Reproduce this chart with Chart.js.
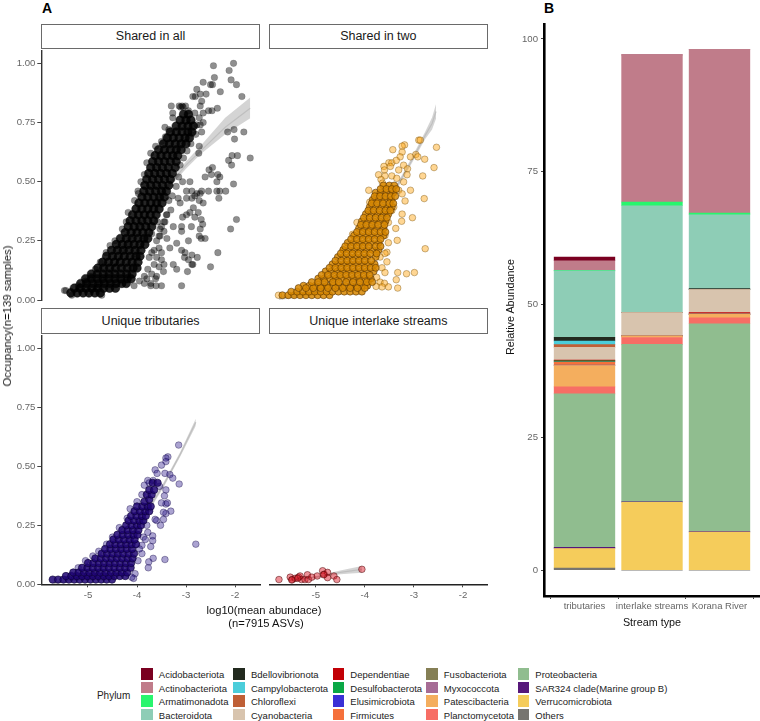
<!DOCTYPE html>
<html><head><meta charset="utf-8">
<style>
html,body{margin:0;padding:0;background:#fff;width:760px;height:721px;overflow:hidden;font-family:"Liberation Sans",Arial,sans-serif}
canvas{position:absolute}
.t{position:absolute;white-space:nowrap;transform:translate(-50%,-50%)}
.strip{position:absolute;box-sizing:border-box;border:1.2px solid #6a6a6a;background:#fff;color:#1a1a1a;font-size:12.5px;display:flex;align-items:center;justify-content:center}
.sw{position:absolute;width:11.6px;height:11.6px}
.lg{position:absolute;font-size:9.5px;color:#222;white-space:nowrap;transform:translateY(-50%)}
</style>
<script src="https://cdn.jsdelivr.net/npm/chart.js@4/dist/chart.umd.js"></script>
</head><body>
<script>
// ---------- Panel A: [log10 abundance, occupancy], flat pairs ----------
const allCore=[-5.35,.03,-5.22,.03,-5.1,.03,-4.98,.03,-4.86,.03,-4.75,.03,
-5.28,.05,-5.16,.05,-5.04,.05,-4.92,.05,-4.8,.05,-4.68,.05,-4.56,.05,-4.44,.05,
-5.15,.07,-5.03,.07,-4.91,.07,-4.79,.07,-4.67,.07,-4.55,.07,-4.43,.07,-4.31,.07,-4.22,.07,
-5.05,.09,-4.93,.09,-4.81,.09,-4.69,.09,-4.57,.09,-4.45,.09,-4.33,.09,-4.2,.09,-4.12,.09,
-4.93,.11,-4.81,.11,-4.69,.11,-4.57,.11,-4.45,.11,-4.33,.11,-4.21,.11,-4.1,.11,
-4.8,.135,-4.68,.135,-4.56,.135,-4.44,.135,-4.32,.135,-4.2,.135,-4.08,.135,-4,.135,
-4.7,.16,-4.58,.16,-4.46,.16,-4.34,.16,-4.22,.16,-4.1,.16,-3.98,.16,
-4.62,.185,-4.5,.185,-4.38,.185,-4.26,.185,-4.14,.185,-4.02,.185,-3.94,.185,
-4.52,.21,-4.4,.21,-4.28,.21,-4.16,.21,-4.04,.21,-3.92,.21,
-4.42,.235,-4.3,.235,-4.18,.235,-4.06,.235,-3.94,.235,-3.84,.235,
-4.34,.26,-4.22,.26,-4.1,.26,-3.98,.26,-3.86,.26,-3.78,.26,
-4.24,.285,-4.12,.285,-4,.285,-3.88,.285,-3.76,.285,
-4.18,.31,-4.06,.31,-3.94,.31,-3.82,.31,-3.7,.31,
-4.14,.335,-4.02,.335,-3.9,.335,-3.78,.335,-3.66,.335,
-4.09,.36,-3.97,.36,-3.85,.36,-3.73,.36,-3.61,.36,
-4.02,.385,-3.9,.385,-3.78,.385,-3.66,.385,-3.55,.385,
-3.96,.41,-3.84,.41,-3.72,.41,-3.6,.41,-3.49,.41,
-3.9,.435,-3.78,.435,-3.66,.435,-3.54,.435,-3.44,.435,
-3.86,.46,-3.74,.46,-3.62,.46,-3.5,.46,-3.4,.46,
-3.84,.485,-3.72,.485,-3.6,.485,-3.48,.485,-3.35,.485,
-3.8,.51,-3.68,.51,-3.56,.51,-3.44,.51,-3.32,.51,
-3.76,.535,-3.64,.535,-3.52,.535,-3.4,.535,-3.28,.535,
-3.72,.56,-3.6,.56,-3.48,.56,-3.36,.56,-3.22,.56,
-3.68,.585,-3.56,.585,-3.44,.585,-3.32,.585,-3.2,.585,
-3.63,.61,-3.51,.61,-3.39,.61,-3.27,.61,-3.17,.61,
-3.56,.635,-3.44,.635,-3.32,.635,-3.2,.635,-3.1,.635,
-3.46,.66,-3.34,.66,-3.22,.66,-3.1,.66,-3,.66,
-3.38,.685,-3.26,.685,-3.14,.685,-3.02,.685,-2.93,.685,
-3.32,.71,-3.2,.71,-3.08,.71,-2.96,.71,-2.88,.71,
-3.2,.735,-3.08,.735,-2.96,.735,-2.85,.735,
-3.12,.76,-3,.76,-2.9,.76,-3.05,.785,-2.95,.785];
const allSparse=[-2.44,.99,-2.03,1,-2.12,.97,-2.08,.93,-1.97,.91,-1.86,.86,-2.65,.92,-2.42,.94,-2.5,.91,-2.46,.91,-2.3,.88,-2.78,.89,-2.86,.86,-2.81,.86,-2.71,.87,-2.59,.87,-2.68,.84,-2.71,.82,-2.65,.79,-2.54,.8,-2.47,.8,-2.36,.81,-3.3,.82,-3.14,.82,-3.08,.82,-3.01,.82,-3.11,.815,-3.06,.815,-2.95,.8,-3.27,.79,-2.82,.79,-2.73,.77,-3.27,.77,-2.65,.75,-2.71,.74,-2.68,.71,-3.43,.73,-2.15,.71,-2.02,.72,-1.82,.71,-2.01,.68,-2.73,.65,-2.74,.62,-1.69,.6,-1.95,.61,-2.06,.61,-2.13,.59,-2.07,.57,-2.46,.56,-2.53,.55,-2.35,.53,-2.31,.52,-2.37,.5,-2.61,.52,-2.48,.53,-2.03,.49,-2.19,.46,-2.31,.46,-2.37,.46,-2.33,.43,-2.54,.46,-2.68,.46,-2.71,.45,-2.92,.5,-3.07,.5,-2.99,.46,-2.88,.46,-2.78,.45,-3.16,.43,-2.99,.43,-2.88,.43,-2.82,.44,-2.73,.42,-2.65,.41,-3.12,.41,-3.97,.45,-3.31,.38,-2.75,.37,-2.85,.39,-2.92,.37,-2.99,.36,-3.07,.35,-3.39,.36,-2.69,.34,-2.82,.35,-1.97,.34,-2.09,.3,-2.71,.3,-2.66,.32,-2.89,.31,-3.09,.31,-3.09,.29,-3.26,.31,-3.43,.33,-3.53,.3,-2.73,.27,-2.69,.26,-2.61,.26,-2.95,.25,-3.19,.24,-3.53,.27,-3.39,.26,-3.33,.22,-3.09,.21,-3.02,.2,-2.88,.19,-2.77,.18,-2.35,.2,-3.03,.18,-2.95,.17,-2.86,.15,-2.5,.14,-3.26,.15,-3.19,.13,-2.88,.15,-2.97,.12,-3.46,.12,-3.6,.1,-3.09,.06,-3.5,.06,-3.61,.06,-3.72,.06,-4.06,.06,-4.72,.02,-5.48,.04,-5.33,.02,
-3.7,.28,-3.6,.25,-3.55,.22,-3.5,.2,-3.6,.18,-3.65,.15,-3.55,.14,-3.7,.11,-3.8,.09,-3.5,.17,-3.45,.15,-3.65,.21,-3.7,.2,-3.75,.18,-3.78,.13,-3.85,.1,-3.95,.08,-3.62,.09,-3.72,.07,-3.85,.07,-3.5,.31,-3.58,.33,-3.45,.29,
-5.45,.04,-5.2,.06,-5.05,.08,-4.95,.1,-4.85,.13,-4.75,.16,-4.63,.2,-4.55,.23,-4.45,.25,-4.3,.3,-4.22,.33,-4.18,.37,-4.05,.42,-3.98,.46,-3.92,.5,-3.85,.53,-3.8,.58,-3.72,.62,-3.62,.65,-3.5,.67,-3.42,.69,-3.35,.72,-3.28,.44,-3.2,.48,-3.15,.52,-3.12,.57,-3.05,.6,-2.98,.63,-2.9,.66,-2.8,.7,-2.78,.74,-3.4,.36,-3.35,.42,-3.45,.33,-3.55,.27];
const twoCore=[-5.68,.02,-5.56,.02,-5.44,.02,-5.32,.02,-5.2,.02,-5.08,.02,-4.96,.02,-4.84,.02,-4.72,.02,
-5.5,.035,-5.38,.035,-5.26,.035,-5.14,.035,-5.02,.035,-4.9,.035,-4.78,.035,-4.66,.035,-4.54,.035,-4.42,.035,-4.3,.035,-4.18,.035,-4.06,.035,
-5.25,.06,-5.13,.06,-5.01,.06,-4.89,.06,-4.77,.06,-4.65,.06,-4.53,.06,-4.41,.06,-4.29,.06,-4.17,.06,-4.05,.06,-3.95,.06,
-4.95,.09,-4.83,.09,-4.71,.09,-4.59,.09,-4.47,.09,-4.35,.09,-4.23,.09,-4.11,.09,-3.99,.09,-3.88,.09,
-4.8,.12,-4.68,.12,-4.56,.12,-4.44,.12,-4.32,.12,-4.2,.12,-4.08,.12,-3.96,.12,-3.82,.12,
-4.66,.15,-4.54,.15,-4.42,.15,-4.3,.15,-4.18,.15,-4.06,.15,-3.94,.15,-3.8,.15,
-4.55,.18,-4.43,.18,-4.31,.18,-4.19,.18,-4.07,.18,-3.95,.18,-3.78,.18,
-4.44,.21,-4.32,.21,-4.2,.21,-4.08,.21,-3.96,.21,-3.84,.21,-3.72,.21,
-4.35,.24,-4.23,.24,-4.11,.24,-3.99,.24,-3.87,.24,-3.72,.24,
-4.22,.27,-4.1,.27,-3.98,.27,-3.86,.27,-3.74,.27,-3.62,.27,
-4.12,.3,-4,.3,-3.88,.3,-3.76,.3,-3.62,.3,
-4.06,.33,-3.94,.33,-3.82,.33,-3.7,.33,-3.58,.33,
-3.98,.36,-3.86,.36,-3.74,.36,-3.62,.36,-3.52,.36,
-3.9,.39,-3.78,.39,-3.66,.39,-3.54,.39,-3.45,.39,
-3.84,.42,-3.72,.42,-3.6,.42,-3.46,.42,
-3.78,.45,-3.68,.45,-3.56,.45,-3.42,.45,-3.62,.48,-3.5,.48,-3.4,.48,
-5.35,.05,-5.2,.05,-5.05,.05,-4.9,.05,-4.75,.05,-4.6,.05,-4.45,.05,-4.3,.05,-4.15,.05,-4,.05,
-5.08,.075,-4.95,.075,-4.82,.075,-4.65,.075,-4.53,.075,-4.38,.075,-4.24,.075,-4.1,.075,-3.96,.075,-3.85,.075,
-4.88,.105,-4.75,.105,-4.62,.105,-4.5,.105,-4.38,.105,-4.26,.105,-4.14,.105,-4.02,.105,-3.9,.105,
-4.72,.135,-4.6,.135,-4.48,.135,-4.36,.135,-4.24,.135,-4.12,.135,-4,.135,-3.88,.135,-3.78,.135,
-4.6,.165,-4.48,.165,-4.36,.165,-4.24,.165,-4.12,.165,-4,.165,-3.87,.165,
-4.49,.195,-4.37,.195,-4.25,.195,-4.13,.195,-4.01,.195,-3.89,.195,-3.76,.195,
-4.4,.225,-4.28,.225,-4.16,.225,-4.04,.225,-3.92,.225,-3.78,.225,-3.68,.225,
-4.28,.255,-4.16,.255,-4.04,.255,-3.92,.255,-3.8,.255,-3.68,.255,
-4.16,.285,-4.04,.285,-3.92,.285,-3.8,.285,-3.68,.285,-3.58,.285,
-4.08,.315,-3.97,.315,-3.85,.315,-3.73,.315,-3.6,.315,
-4.02,.345,-3.9,.345,-3.78,.345,-3.66,.345,-3.55,.345,
-3.93,.375,-3.82,.375,-3.7,.375,-3.58,.375,-3.48,.375,
-3.86,.405,-3.75,.405,-3.63,.405,-3.5,.405,-3.42,.405,
-3.8,.435,-3.69,.435,-3.58,.435,-3.47,.435,-3.38,.435,
-3.68,.465,-3.56,.465,-3.45,.465,-3.36,.465];
const twoSparse=[-2.9,.67,-2.87,.67,-2.54,.64,-3.19,.65,-3.24,.645,-3.43,.63,-3.24,.62,-3.28,.6,-3.07,.6,-2.96,.61,-2.92,.6,-2.78,.59,-3.51,.575,-3.45,.575,-3.36,.585,-3.21,.565,-3.61,.56,-3.6,.545,-3.48,.56,-3.31,.545,-3.13,.55,-2.59,.555,-3.72,.525,-3.14,.525,-2.82,.52,-3.59,.52,-3.45,.52,-3.35,.51,-3.21,.495,-3.67,.505,-3.64,.49,-3.07,.46,-3.92,.46,-3.31,.46,-3.24,.445,-3.18,.415,-2.79,.425,-3.9,.41,-3.41,.39,-3.45,.375,-3.24,.36,-3.25,.33,-3.03,.345,-3.52,.325,-4.16,.325,-3.37,.3,-4.25,.275,-3.34,.25,-3.52,.24,-3.59,.27,-2.77,.215,-4.44,.21,-3.55,.2,-3.69,.18,-3.59,.195,-3.55,.16,-3.65,.135,-3.59,.115,-3.33,.115,-3.15,.11,-2.99,.115,-3.36,.085,-3.76,.095,-3.69,.075,-3.6,.07,-3.52,.055,-3.33,.05,-3.77,.057,-3.65,.055,-3.93,.075,-5.76,.02];
const tribCore=[-5.72,.02,-5.61,.02,-5.5,.02,-5.39,.02,-5.28,.02,-5.17,.02,-5.06,.02,-4.95,.02,-4.84,.02,-4.73,.02,-4.62,.02,-4.51,.02,
-5.45,.035,-5.34,.035,-5.23,.035,-5.12,.035,-5.01,.035,-4.9,.035,-4.79,.035,-4.68,.035,-4.57,.035,-4.46,.035,-4.35,.035,-4.24,.035,
-5.3,.05,-5.19,.05,-5.08,.05,-4.97,.05,-4.86,.05,-4.75,.05,-4.64,.05,-4.53,.05,-4.42,.05,-4.31,.05,-4.2,.05,
-5.12,.07,-5.01,.07,-4.9,.07,-4.79,.07,-4.68,.07,-4.57,.07,-4.46,.07,-4.35,.07,-4.24,.07,-4.13,.07,
-5,.09,-4.89,.09,-4.78,.09,-4.67,.09,-4.56,.09,-4.45,.09,-4.34,.09,-4.23,.09,-4.12,.09,
-4.85,.11,-4.74,.11,-4.63,.11,-4.52,.11,-4.41,.11,-4.3,.11,-4.19,.11,-4.09,.11,
-4.72,.13,-4.61,.13,-4.5,.13,-4.39,.13,-4.28,.13,-4.17,.13,-4.06,.13,
-4.65,.15,-4.54,.15,-4.43,.15,-4.32,.15,-4.21,.15,-4.1,.15,
-4.55,.17,-4.44,.17,-4.33,.17,-4.22,.17,-4.11,.17,-4.02,.17,
-4.48,.19,-4.37,.19,-4.26,.19,-4.15,.19,-4.05,.19,
-4.4,.21,-4.29,.21,-4.18,.21,-4.07,.21,-3.99,.21,
-4.3,.23,-4.19,.23,-4.08,.23,-3.97,.23,
-4.22,.25,-4.11,.25,-4,.25,-3.92,.25,
-4.17,.27,-4.06,.27,-3.95,.27,-3.87,.27,
-4.12,.29,-4.01,.29,-3.9,.29,-3.82,.29,
-4.05,.31,-3.94,.31,-3.83,.31,-3.75,.31,
-4,.33,-3.89,.33,-3.78,.33,-3.72,.33,-3.85,.35,-3.75,.36,-3.8,.38,-3.7,.38,-3.75,.4,-3.65,.4,-3.68,.43,-3.58,.43];
const tribSparse=[-3.15,.59,-3.37,.54,-3.41,.535,-3.41,.52,-3.5,.505,-3.63,.485,-3.59,.47,-3.43,.47,-3.33,.465,-3.27,.45,-3.14,.425,-3.78,.44,-3.54,.415,-3.41,.4,-3.44,.375,-3.41,.34,-3.38,.345,-3.5,.345,-3.31,.31,-3.41,.3,-3.46,.305,-3.46,.275,-3.52,.25,-3.6,.27,-3.63,.275,-3.68,.205,-3.68,.185,-3.72,.16,-2.8,.17,-3.43,.105,-3.67,.11,-3.76,.095,-3.77,.07,-4.04,.045,-4.07,.025,-3.9,.165,-3.87,.2,-4.11,.03,
-5.2,.07,-5.05,.1,-4.9,.12,-4.78,.14,-4.62,.17,-4.5,.2,-4.36,.24,-4.2,.28,-4.14,.32,-4,.35,-3.9,.38,-3.85,.42,-3.75,.43,-3.67,.44,-3.9,.27,-3.8,.25,-3.78,.22,-3.83,.19,-3.9,.13,-3.98,.1,-3.95,.15];
const lakeSparse=[-5.75,.02,-5.52,.03,-5.48,.02,-5.42,.025,-5.35,.03,-5.32,.035,-5.29,.02,-5.22,.02,-5.17,.04,-5.15,.02,-5.08,.03,-4.97,.035,-4.86,.057,-4.83,.042,-4.76,.05,-4.76,.028,-4.63,.035,-4.57,.02,-4.06,.063,-5.37,.025,-5.49,.018,-4.84,.04];
// fit ribbons: abundance, centre, upper, lower
const allFitX=[-5,-4.5,-4,-3.5,-3,-2.71,-2.2,-1.69], allFit=[.02,.13,.3,.45,.57,.628,.73,.81], allHi=[.03,.14,.31,.46,.585,.65,.77,.856], allLo=[.01,.12,.29,.44,.555,.615,.7,.768];
const twoFitX=[-5.75,-5,-4.5,-4,-3.5,-3.04,-2.77,-2.63,-2.55], twoFit=[.006,.03,.11,.25,.42,.586,.69,.74,.79], twoHi=[.014,.04,.12,.26,.43,.598,.705,.765,.82], twoLo=[0,.02,.1,.24,.41,.574,.675,.715,.76];
const tribFitX=[-5.7,-5,-4.5,-4,-3.46,-3.12,-2.8], tribFit=[.005,.03,.1,.24,.42,.55,.687], tribHi=[.01,.04,.11,.25,.43,.56,.702], tribLo=[0,.02,.09,.23,.41,.54,.672];
const lakeFitX=[-5.5,-5,-4.5,-4.06], lakeFit=[.018,.03,.05,.063], lakeHi=[.024,.034,.058,.077], lakeLo=[.012,.026,.042,.049];
const xTicks=[-5,-4,-3,-2], yTicks=[0,.25,.5,.75,1];
// ---------- Panel B ----------
const streams=['tributaries','interlake streams','Korana River'];
const streamPos=[0,1,2];
const barTicks=[0,25,50,75,100];
const phyla=['Acidobacteriota','Actinobacteriota','Armatimonadota','Bacteroidota','Bdellovibrionota','Campylobacterota','Chloroflexi','Cyanobacteria','Dependentiae','Desulfobacterota','Elusimicrobiota','Firmicutes','Fusobacteriota','Myxococcota','Patescibacteria','Planctomycetota','Proteobacteria','SAR324 clade(Marine group B)','Verrucomicrobiota','Others'];
const phylumColors=['#7a0020','#c07c8a','#28f56e','#8ecdb6','#222a1f','#4bcdda','#bf5f36','#d8c4ae','#c20006','#0aa846','#3a30d6','#f5703b','#857f55','#a66c95','#f4ae5e','#f76e65','#90bd8f','#56177a','#f5cc5b','#777570'];
const acido=[.7,0,0], actino=[1.8,27.7,30.8], armat=[.1,.7,.3], bactero=[12.5,20.1,13.9], bdello=[.7,0,.2], campy=[.7,0,0], chloro=[.5,0,0], cyano=[2.4,4.4,4.3], depend=[.15,0,.3], desulfo=[.2,0,0], elusi=[0,0,0], firmi=[.6,0,0], fuso=[0,0,0], myxo=[.1,0,0], patesci=[4,.3,.7], plancto=[1.3,1.3,1.1], proteo=[28.9,29.6,39.1], sar=[.2,.1,.1], verruco=[3.7,12.8,7.2], others=[.4,0,0];
const phylumValues=[acido,actino,armat,bactero,bdello,campy,chloro,cyano,depend,desulfo,elusi,firmi,fuso,myxo,patesci,plancto,proteo,sar,verruco,others];

// ---------- drawing ----------
const FONT='"Liberation Sans",Arial,sans-serif';
function cv(l,t,w,h){const c=document.createElement('canvas');c.width=w;c.height=h;c.style.left=l+'px';c.style.top=t+'px';c.style.width=w+'px';c.style.height=h+'px';document.body.appendChild(c);return c}
function text(s,x,y,size,color,extra){const d=document.createElement('div');d.className='t';d.textContent=s;d.style.left=x+'px';d.style.top=y+'px';d.style.fontSize=size+'px';d.style.color=color;if(extra)Object.assign(d.style,extra);document.body.appendChild(d);return d}
function strip(s,l,t,w,h){const d=document.createElement('div');d.className='strip';d.textContent=s;d.style.cssText+=`left:${l}px;top:${t}px;width:${w}px;height:${h}px`;document.body.appendChild(d)}
function pts(a){const o=[];for(let i=0;i<a.length;i+=2)o.push({x:a[i],y:a[i+1]});return o}
function zip(x,y){return x.map((v,i)=>({x:v,y:y[i]}))}
function panel(o){
 const ds=[];
 ds.push({data:pts(o.sparse),backgroundColor:o.fill,borderColor:o.edge,borderWidth:o.bw,pointRadius:3.3,order:2});
 if(o.core)ds.push({data:pts(o.core),backgroundColor:o.coreFill,borderColor:o.coreEdge,borderWidth:o.bw,pointRadius:o.coreR,order:1});
 ds.push({data:zip(o.fx,o.hi),showLine:true,pointRadius:0,borderWidth:0,fill:false,order:6});
 ds.push({data:zip(o.fx,o.lo),showLine:true,pointRadius:0,borderWidth:0,fill:'-1',backgroundColor:'rgba(170,170,170,.5)',order:5});
 ds.push({data:zip(o.fx,o.fit),showLine:true,pointRadius:0,borderWidth:1.2,borderColor:'rgba(190,190,190,.9)',fill:false,order:4});
 const x={type:'linear',min:-5.953,max:-1.49,display:!!o.showX,
  afterFit:s=>{s.height=o.xh||0},
  afterBuildTicks:s=>{s.ticks=xTicks.map(v=>({value:v}))},
  grid:{display:true,drawOnChartArea:false,drawTicks:true,tickLength:3,tickColor:'#444',tickWidth:1},
  border:{display:true,color:'#222',width:1.4},
  ticks:{color:'#666',font:{size:9.6,family:FONT},padding:2,maxRotation:0,autoSkip:false,callback:v=>String(v)}};
 const y={type:'linear',min:0,max:1.052,display:!!o.showY,
  afterFit:s=>{s.width=o.yw||0},
  afterBuildTicks:s=>{s.ticks=yTicks.map(v=>({value:v}))},
  grid:{display:true,drawOnChartArea:false,drawTicks:true,tickLength:4,tickColor:'#444',tickWidth:1},
  border:{display:true,color:'#333',width:1.4},
  ticks:{color:'#666',font:{size:9.6,family:FONT,lineHeight:.01},padding:2,autoSkip:false,callback:v=>v.toFixed(2)}};
 new Chart(cv(o.l,o.t,o.w,o.h),{type:'scatter',data:{datasets:ds},options:{responsive:false,animation:false,devicePixelRatio:1,
  layout:{autoPadding:false,padding:{left:0,right:o.pr||0,top:0,bottom:o.pb||0}},
  plugins:{legend:{display:false},tooltip:{enabled:false},title:{display:false}},scales:{x,y}}});
}
panel({l:0,t:49,w:261,h:259,pb:8,yw:41.3,pr:1,showY:true,sparse:allSparse,core:allCore,coreR:4.3,fill:'rgba(0,0,0,.44)',edge:'rgba(0,0,0,.25)',bw:.6,coreFill:'rgba(0,0,0,.85)',coreEdge:'rgba(0,0,0,.8)',fx:allFitX,fit:allFit,hi:allHi,lo:allLo});
panel({l:269,t:49,w:219,h:251,sparse:twoSparse,core:twoCore,coreR:3.5,fill:'rgba(255,170,30,.48)',edge:'rgba(110,70,0,.55)',bw:.7,coreFill:'rgba(215,135,0,.85)',coreEdge:'rgba(70,40,0,.75)',fx:twoFitX,fit:twoFit,hi:twoHi,lo:twoLo});
panel({l:0,t:334,w:261,h:280,yw:41.3,xh:29.7,pr:1,showY:true,showX:true,sparse:tribSparse,core:tribCore,coreR:3.7,fill:'rgba(45,25,140,.4)',edge:'rgba(20,10,70,.55)',bw:.7,coreFill:'rgba(30,5,115,.85)',coreEdge:'rgba(10,0,50,.85)',fx:tribFitX,fit:tribFit,hi:tribHi,lo:tribLo});
panel({l:269,t:334,w:219,h:280,xh:29.7,showX:true,sparse:lakeSparse,fill:'rgba(220,25,40,.48)',edge:'rgba(70,0,0,.7)',bw:.7,fx:lakeFitX,fit:lakeFit,hi:lakeHi,lo:lakeLo});

const barSets=phyla.map((p,i)=>({label:p,data:phylumValues[i],backgroundColor:phylumColors[i],borderWidth:0,barThickness:60.7,stack:'s'})).reverse();
new Chart(cv(500,20,260,606),{type:'bar',data:{labels:streamPos,datasets:barSets},options:{responsive:false,animation:false,devicePixelRatio:1,
 layout:{autoPadding:false,padding:{top:4,left:0,right:0,bottom:0}},
 plugins:{legend:{display:false},tooltip:{enabled:false}},
 scales:{
  x:{type:'linear',min:-.6,max:2.6,offset:false,stacked:true,afterFit:s=>{s.height=30},
   afterBuildTicks:s=>{s.ticks=streamPos.map(v=>({value:v}))},
   grid:{display:true,drawOnChartArea:false,drawTicks:true,tickLength:3,tickColor:'#444',tickWidth:1},
   border:{display:true,color:'#000',width:2.6},
   ticks:{color:'#666',font:{size:9.5,family:FONT},padding:2,maxRotation:0,autoSkip:false,callback:v=>streams[v]}},
  y:{type:'linear',min:-4.84,max:102.8,stacked:true,afterFit:s=>{s.width=44},
   afterBuildTicks:s=>{s.ticks=barTicks.map(v=>({value:v}))},
   grid:{display:true,drawOnChartArea:false,drawTicks:true,tickLength:3,tickColor:'#444',tickWidth:1},
   border:{display:true,color:'#000',width:2.6},
   ticks:{color:'#666',font:{size:9.6,family:FONT,lineHeight:.01},padding:3,autoSkip:false,callback:v=>String(v)}}
 }}});

// ---------- strips, titles, legend ----------
strip('Shared in all',41.3,23.5,218.6,25.5);
strip('Shared in two',269,23.5,218.7,25.5);
strip('Unique tributaries',41.3,308.3,218.6,25.5);
strip('Unique interlake streams',269,308.3,218.7,25.5);
text('A',47,7.5,14,'#000',{fontWeight:'bold'});
text('B',549,7.5,14,'#000',{fontWeight:'bold'});
text('log10(mean abundace)',264,610,11.2,'#111');
text('(n=7915 ASVs)',266,622.5,11.2,'#111');
text('Occupancy(n=139 samples)',6.5,315.5,11.3,'#111',{transform:'translate(-50%,-50%) rotate(-90deg)'});
text('Relative Abundance',510,307,10.8,'#111',{transform:'translate(-50%,-50%) rotate(-90deg)'});
text('Stream type',652,622,10.8,'#111');
text('Phylum',113.6,694.5,10,'#222');
const legendSwatchX=[141,233.2,332.5,426,517.5], legendRowY=[674,687.5,701,714.5];
phyla.forEach((p,i)=>{const c=Math.floor(i/4),r=i%4;
 const s=document.createElement('div');s.className='sw';s.style.left=legendSwatchX[c]+'px';s.style.top=(legendRowY[r]-5.8)+'px';s.style.background=phylumColors[i];document.body.appendChild(s);
 const l=document.createElement('div');l.className='lg';l.textContent=p;l.style.left=(legendSwatchX[c]+17.8)+'px';l.style.top=legendRowY[r]+'px';document.body.appendChild(l);});
</script>
</body></html>
